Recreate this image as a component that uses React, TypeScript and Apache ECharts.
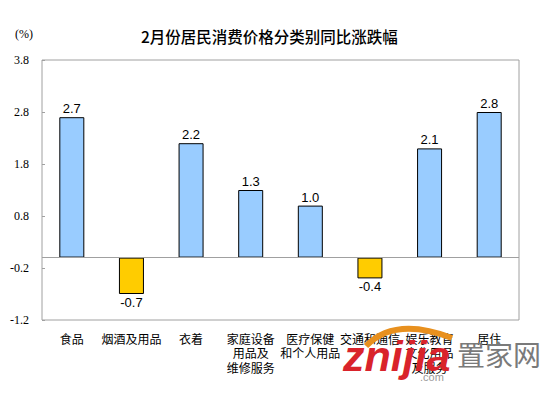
import React, { useEffect, useRef } from "react";
import * as echarts from "echarts";

const categories = [
  "食品",
  "烟酒及用品",
  "衣着",
  "家庭设备\n用品及\n维修服务",
  "医疗保健\n和个人用品",
  "交通和通信",
  "娱乐教育\n文化用品\n及服务",
  "居住",
];
const values = [2.7, -0.7, 2.2, 1.3, 1.0, -0.4, 2.1, 2.8];
const yTicks = [-1.2, -0.2, 0.8, 1.8, 2.8, 3.8];
const titleText = "2月份居民消费价格分类别同比涨跌幅";
const unitText = "(%)";

export default function App() {
  const ref = useRef<HTMLDivElement>(null);
  useEffect(() => {
    if (!ref.current) return;
    const chart = echarts.init(ref.current, undefined, { renderer: "svg" });
    const serif = "'Liberation Serif', 'Times New Roman', serif";
    const cjk = "'Noto Sans CJK SC', sans-serif";
    chart.setOption({
      animation: false,
      backgroundColor: "#fff",
      title: {
        text: titleText,
        left: 136,
        top: 23,
        textStyle: { fontFamily: cjk, fontSize: 15.5, fontWeight: 500, color: "#000" },
      },
      grid: {
        left: 42,
        right: 31,
        top: 60,
        bottom: 73,
        show: true,
        borderColor: "#a0a0a0",
        borderWidth: 1,
        backgroundColor: "transparent",
      },
      xAxis: {
        type: "category",
        data: categories,
        axisLine: { show: false },
        axisTick: { show: false },
        axisLabel: {
          interval: 0,
          margin: 11,
          fontFamily: cjk,
          fontSize: 12,
          lineHeight: 14.5,
          color: "#000",
        },
        splitLine: { show: false },
      },
      yAxis: {
        type: "value",
        min: yTicks[0],
        max: yTicks[yTicks.length - 1],
        axisLine: { show: false },
        axisTick: {
          show: true,
          inside: true,
          length: 3,
          customValues: yTicks,
          lineStyle: { color: "#a0a0a0" },
        },
        axisLabel: {
          customValues: yTicks,
          formatter: (v: number) => v.toFixed(1),
          fontFamily: serif,
          fontSize: 12,
          color: "#000",
          margin: 13,
        },
        splitLine: { show: false },
      },
      series: [
        {
          type: "bar",
          barWidth: 25,
          data: values.map((v) => ({
            value: v,
            itemStyle: {
              color: v >= 0 ? "#99CCFF" : "#FFCC00",
              borderColor: "#000",
              borderWidth: 1,
            },
            label: { position: v >= 0 ? "top" : "bottom" },
          })),
          label: {
            show: true,
            distance: 2,
            fontFamily: "'Liberation Sans', Arial, sans-serif",
            fontSize: 13,
            color: "#000",
            formatter: (p: any) => Number(p.value).toFixed(1),
          },
          markLine: {
            silent: true,
            symbol: "none",
            label: { show: false },
            lineStyle: { color: "#a0a0a0", width: 1, type: "solid" },
            data: [{ yAxis: 0 }],
          },
        },
      ],
      graphic: [
        {
          type: "text",
          left: 15,
          top: 28,
          style: { text: unitText, font: "12px " + serif, fill: "#000" },
        },
        {
          type: "bezierCurve",
          shape: { x1: 366, y1: 346, cpx1: 395, cpy1: 316, x2: 452, y2: 338 },
          style: { stroke: "#E8901E", lineWidth: 6, fill: "none" },
          z: 100,
        },
        {
          type: "text",
          left: 343,
          top: 334,
          z: 101,
          style: {
            text: "znijia",
            font: "italic bold 43px 'Liberation Sans', Arial, sans-serif",
            fill: "#D9232B",
          },
        },
        {
          type: "text",
          left: 420,
          top: 371,
          z: 101,
          style: { text: ".com", font: "11px 'Liberation Sans', Arial, sans-serif", fill: "#999" },
        },
        {
          type: "text",
          left: 457,
          top: 340,
          z: 101,
          style: { text: "置家网", font: "28px " + cjk, fill: "#7a7a7a" },
        },
      ],
    });
    return () => chart.dispose();
  }, []);
  return (
    <div
      ref={ref}
      style={{ position: "absolute", left: 0, top: 0, width: 550, height: 393 }}
    />
  );
}
